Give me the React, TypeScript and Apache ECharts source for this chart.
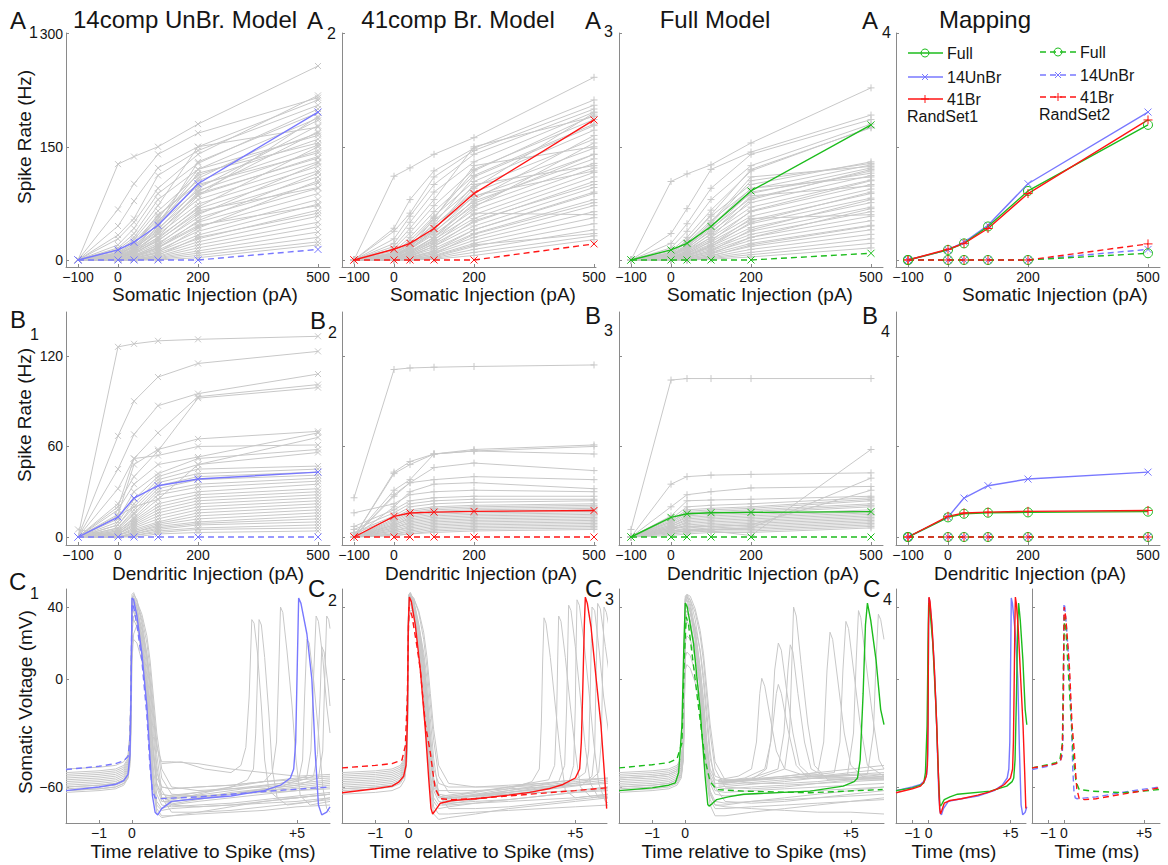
import React, { useEffect, useRef } from "react";
import * as echarts from "echarts";

const FONT = '"Liberation Sans", Arial, Helvetica, sans-serif';
const GREY = "#c8c8c8";
const BLUE = "#7878ff";
const RED = "#ff1414";
const GREEN = "#1cbc1c";
const AXIS = "#8a8a8a";
const INK = "#151515";

// ---------- injection (F-I) data ----------
const INJ = [-100, 0, 40, 100, 200, 500];
const INJ_TICKS = [-100, 0, 200, 500];
const RATE_A_TICKS = [0, 150, 300];
const RATE_B_TICKS = [0, 60, 120];
const VOLT_TICKS = [-60, 0, 40];
const TIME_TICKS = [-1, 0, 5];

const A_UNBR_SET1 = [0, 13.3, 23.5, 46, 101, 196];
const A_UNBR_SET2 = [0, 0, 0, 0, 0, 14];
const A_BR_SET1 = [0, 14.2, 22, 41.7, 88, 185.5];
const A_BR_SET2 = [0, 0, 0, 0, 0, 21.3];
const A_FULL_SET1 = [0, 13.3, 22, 44.4, 91.4, 179];
const A_FULL_SET2 = [0, 0, 0, 0, 0, 8.9];

const B_UNBR_SET1 = [0, 13.2, 25.8, 34, 38.4, 43];
const B_UNBR_SET2 = [0, 0, 0, 0, 0, 0];
const B_BR_SET1 = [0, 13.7, 15.9, 16.5, 17, 17.6];
const B_BR_SET2 = [0, 0, 0, 0, 0, 0];
const B_FULL_SET1 = [0, 13, 15.4, 16.1, 16.3, 16.8];
const B_FULL_SET2 = [0, 0, 0, 0, 0, 0];

const A1_GREY = [
  [0, 127, 137, 150, 180, 257], [0, 67, 101, 140, 168, 215], [0, 45, 78, 122, 150, 212],
  [0, 33, 55, 112, 145, 205], [0, 28, 50, 95, 140, 218], [0, 20, 42, 88, 128, 200],
  [0, 16, 35, 80, 120, 188], [0, 14, 30, 72, 150, 176], [0, 12, 27, 65, 112, 168],
  [0, 10, 24, 58, 105, 160], [0, 9, 22, 52, 98, 152], [0, 8, 19, 47, 92, 145],
  [0, 7, 17, 42, 86, 137], [0, 6, 15, 38, 80, 130], [0, 5, 13, 34, 74, 124],
  [0, 4, 11, 30, 68, 118], [0, 3, 9, 26, 62, 110], [0, 2, 8, 22, 56, 102],
  [0, 2, 6, 19, 50, 95], [0, 1, 5, 16, 44, 88], [0, 1, 4, 13, 38, 80],
  [0, 0, 3, 11, 33, 74], [0, 0, 2, 9, 28, 66], [0, 0, 1, 7, 24, 58],
  [0, 0, 0, 5, 20, 50], [0, 0, 0, 4, 16, 44], [0, 0, 0, 3, 12, 37],
  [0, 0, 0, 2, 9, 30], [0, 0, 0, 1, 6, 24], [0, 0, 0, 0, 3, 20],
  [0, 3, 12, 45, 130, 195], [0, 6, 20, 60, 100, 142], [0, 4, 14, 50, 115, 155],
  [0, 2, 10, 35, 90, 170], [0, 3, 10, 30, 85, 190], [0, 5, 15, 40, 95, 178],
  [0, 8, 22, 55, 120, 165], [0, 2, 8, 28, 70, 150], [0, 4, 12, 36, 88, 135],
  [0, 1, 6, 20, 60, 128], [0, 0, 4, 15, 52, 115], [0, 0, 2, 10, 42, 105],
  [0, 6, 18, 48, 108, 185], [0, 3, 9, 25, 65, 96], [0, 1, 5, 17, 46, 72],
  [0, 0, 1, 6, 30, 62],
];
const A2_GREY = [
  [0, 111, 122, 140, 162, 242], [0, 42, 80, 118, 148, 212], [0, 38, 62, 110, 145, 205],
  [0, 28, 58, 100, 140, 200], [0, 22, 50, 90, 130, 196], [0, 18, 42, 80, 150, 190],
  [0, 15, 36, 72, 120, 186], [0, 12, 30, 64, 112, 180], [0, 10, 26, 58, 104, 172],
  [0, 9, 23, 52, 97, 160], [0, 8, 20, 46, 90, 148], [0, 7, 18, 42, 84, 140],
  [0, 6, 16, 38, 78, 134], [0, 5, 14, 34, 72, 128], [0, 4, 12, 30, 66, 122],
  [0, 3, 10, 27, 60, 116], [0, 3, 9, 24, 55, 110], [0, 2, 7, 21, 50, 104],
  [0, 2, 6, 18, 45, 96], [0, 1, 5, 15, 40, 88], [0, 1, 4, 12, 35, 80],
  [0, 0, 3, 10, 30, 72], [0, 0, 2, 8, 26, 64], [0, 0, 1, 6, 22, 56],
  [0, 0, 0, 4, 18, 48], [0, 0, 0, 3, 14, 40], [0, 0, 0, 2, 10, 32],
  [0, 0, 0, 1, 6, 27], [0, 4, 15, 55, 125, 150], [0, 5, 18, 40, 100, 125],
  [0, 3, 11, 30, 75, 140], [0, 4, 14, 40, 95, 195], [0, 6, 18, 48, 110, 178],
  [0, 3, 10, 30, 80, 165], [0, 2, 8, 26, 70, 155], [0, 5, 15, 36, 85, 118],
  [0, 1, 5, 18, 52, 100], [0, 0, 3, 12, 40, 90], [0, 0, 2, 8, 34, 76],
  [0, 8, 22, 56, 118, 192], [0, 2, 7, 22, 62, 60], [0, 0, 1, 5, 20, 35],
];
const A3_GREY = [
  [0, 104, 114, 126, 155, 228], [0, 35, 68, 120, 143, 192], [0, 22, 48, 95, 140, 186],
  [0, 16, 38, 80, 125, 180], [0, 12, 30, 66, 118, 176], [0, 10, 26, 58, 100, 130],
  [0, 9, 23, 52, 94, 126], [0, 8, 20, 46, 88, 122], [0, 7, 18, 42, 82, 118],
  [0, 6, 16, 38, 76, 112], [0, 5, 14, 34, 70, 106], [0, 4, 12, 30, 64, 100],
  [0, 4, 10, 27, 58, 94], [0, 3, 9, 24, 53, 88], [0, 3, 8, 21, 48, 82],
  [0, 2, 7, 18, 43, 76], [0, 2, 6, 16, 38, 70], [0, 1, 5, 14, 34, 64],
  [0, 1, 4, 12, 30, 58], [0, 0, 3, 10, 26, 52], [0, 0, 2, 8, 22, 46],
  [0, 0, 1, 6, 18, 40], [0, 0, 0, 4, 14, 34], [0, 0, 0, 3, 10, 28],
  [0, 0, 0, 2, 7, 22], [0, 0, 0, 1, 4, 16], [0, 6, 20, 50, 110, 124],
  [0, 5, 17, 45, 95, 110], [0, 3, 10, 30, 80, 120], [0, 5, 15, 40, 90, 115],
  [0, 2, 8, 25, 65, 105], [0, 4, 12, 35, 85, 98], [0, 1, 5, 18, 50, 90],
  [0, 0, 3, 12, 40, 80], [0, 0, 2, 8, 30, 68], [0, 6, 18, 48, 105, 128],
  [0, 2, 6, 20, 55, 60], [0, 0, 1, 5, 20, 45], [0, 8, 25, 60, 120, 175],
];
const B1_GREY = [
  [0, 126, 128, 130, 131, 133], [0, 67, 90, 106, 115, 123], [0, 45, 68, 87, 95, 108],
  [0, 32, 52, 69, 93, 101], [0, 22, 40, 57, 92, 99], [0, 20, 52, 54, 60, 61],
  [0, 15, 48, 58, 65, 70], [0, 18, 35, 48, 53, 69], [0, 12, 30, 42, 52, 58],
  [0, 10, 25, 40, 48, 56], [0, 8, 22, 38, 45, 47], [0, 8, 20, 36, 42, 45],
  [0, 6, 18, 34, 40, 43], [0, 6, 16, 32, 38, 41], [0, 5, 15, 30, 35, 39],
  [0, 4, 13, 28, 33, 37], [0, 4, 12, 25, 30, 35], [0, 3, 11, 22, 28, 32],
  [0, 3, 10, 20, 26, 30], [0, 2, 9, 18, 24, 28], [0, 2, 8, 16, 22, 26],
  [0, 2, 7, 14, 20, 24], [0, 1, 6, 12, 18, 22], [0, 1, 5, 10, 16, 20],
  [0, 1, 4, 9, 14, 18], [0, 0, 3, 8, 12, 16], [0, 0, 3, 7, 10, 14],
  [0, 0, 2, 6, 9, 12], [5, 0, 2, 5, 8, 10], [0, 0, 1, 4, 6, 8],
  [0, 0, 1, 3, 5, 6], [0, 0, 0, 2, 3, 4], [0, 14, 20, 25, 48, 66],
];
const B2_GREY = [
  [26, 111, 112, 112.5, 113, 114], [0, 43, 50, 55, 58, 61], [0, 42, 48, 55, 57, 60],
  [0, 31, 38, 55, 57, 55], [0, 27, 36, 46, 49, 44], [0, 28, 36, 38, 40, 38],
  [0, 20, 30, 35, 36, 32], [16, 22, 28, 30, 31, 30], [7, 18, 24, 26, 27, 27],
  [5, 16, 22, 24, 25, 25], [3, 14, 20, 22, 23, 24], [2, 13, 18, 20, 21, 22],
  [0, 12, 17, 19, 20, 21], [0, 11, 16, 18, 19, 20], [0, 10, 15, 17, 18, 19],
  [0, 9, 14, 16, 17, 18], [0, 8, 13, 15, 16, 17], [0, 8, 12, 14, 15, 16],
  [0, 7, 11, 13, 14, 15], [0, 6, 10, 12, 13, 14], [0, 6, 9, 11, 12, 13],
  [0, 5, 8, 10, 11, 12], [0, 4, 7, 9, 10, 11], [0, 4, 6, 8, 9, 10],
  [0, 3, 5, 7, 8, 9], [0, 2, 4, 6, 7, 8], [0, 2, 3, 5, 6, 7],
  [0, 1, 2, 4, 5, 6], [0, 1, 2, 3, 4, 5],
];
const B3_GREY = [
  [5, 104, 105, 105, 105, 105], [0, 35, 40, 41, 41.5, 42.5], [0, 20, 28, 30, 32.5, 33.5],
  [0, 14, 24, 24.5, 25, 27], [0, 12, 20, 21, 22, 26], [0, 11, 18, 19, 20, 25],
  [0, 10, 17, 18, 19, 24], [0, 10, 16, 17, 18, 22], [0, 9, 15, 16, 17, 21],
  [0, 8, 14, 15, 16, 20], [0, 8, 13, 14, 15, 18], [0, 7, 12, 13, 14, 17],
  [0, 7, 11, 12, 13, 16], [0, 6, 10, 11, 12, 15], [0, 6, 9, 10, 11, 14],
  [0, 5, 8, 9, 10, 13], [0, 5, 7, 8, 9, 12], [0, 4, 6, 7, 8, 11],
  [0, 4, 5, 6, 7, 10], [0, 3, 4, 5, 6, 9], [0, 3, 4, 5, 5, 8],
  [0, 2, 3, 4, 4, 7], [0, 1, 2, 3, 3, 6], [0, 3, 4, 4, 1, 58],
  [0, 4, 5, 5, 6, 39], [0, 6, 7, 7, 8, 31],
];

// ---------- voltage traces ----------
const G = [-2, -1, -0.5, -0.25, -0.12, -0.06, -0.03, 0, 0.05, 0.15, 0.3, 0.45, 0.55, 0.65, 0.75, 0.9, 1.2, 2, 3, 4, 5, 6];

const C1_GREY = [
  [-55, -54, -53, -51, -47, -35, -5, 44, 46, 40, 24, 2, -18, -42, -60, -68, -68, -66, -64, -61, -59, -57],
  [-60, -59, -58, -56, -52, -42, -15, 40, 42, 36, 20, -5, -30, -55, -68, -72, -70, -68, -66, -64, -62, -60],
  [-52, -51, -50, -48, -44, -30, 0, 47, 48, 43, 30, 10, -8, -32, -52, -60, -61, -60, -59, -57, -56, -55],
  [-63, -62, -61, -59, -55, -45, -20, 35, 38, 31, 13, -12, -38, -62, -74, -77, -76, -74, -71, -68, -66, -64],
  [-57, -56, -55, -53, -49, -38, -8, 42, 44, 40, 27, 6, -14, -40, -58, -66, -66, -65, -64, -62, -61, -59],
  [-50, -49, -48, -46, -42, -30, -5, 30, 33, 29, 17, -1, -17, -40, -55, -60, -61, -60, -59, -57, -55, -54],
  [-62, -61, -60, -58, -54, -44, -20, 38, 40, 34, 18, -8, -32, -58, -72, -76, -76, -75, -74, -73, -71, -70],
  [-58, -57, -56, -54, -50, -40, -12, 18, 22, 20, 10, -6, -22, -44, -58, -64, -65, -65, -64, -63, -62, -61],
  [-54, -53, -52, -50, -46, -34, -4, 45, 47, 44, 32, 14, -2, -20, -38, -46, -46, -47, -50, -52, -54, -53],
  [-59, -58, -57, -55, -51, -41, -14, 43, 45, 39, 22, -2, -25, -50, -64, -70, -71, -70, -69, -67, -65, -63],
  [-61, -60, -59, -57, -53, -43, -18, 41, 43, 37, 19, -6, -33, -60, -70, -73, -72, -71, -70, -69, -68, -66],
  [-56, -55, -54, -52, -48, -37, -9, 40, 43, 42, 34, 20, 5, -15, -35, -55, -64, -65, -64, -62, -60, -58],
  [-53, -52, -51, -49, -45, -33, -3, 43, 45, 43, 36, 24, 10, -10, -30, -50, -60, -62, -61, -60, -58, -56],
  [-60, -59, -58, -56, -53, -45, -25, 25, 35, 36, 28, 14, 0, -20, -42, -62, -70, -71, -70, -68, -66, -64],
  [-62, -61, -60, -58, -55, -48, -30, 10, 25, 30, 25, 12, -4, -26, -48, -66, -74, -74, -73, -71, -69, -67],
];
const C1_GREY_LATE = [
  [[0.9, -47], [1.5, -46], [2.2, -50], [3, -52], [3.3, -48], [3.45, -38], [3.55, -10], [3.63, 33], [3.7, 31], [3.8, 15], [3.92, -15], [4.02, -45], [4.15, -62], [4.4, -66], [5, -66], [6, -64]],
  [[1, -68], [2, -64], [3, -60], [3.5, -56], [3.68, -50], [3.75, -30], [3.8, 0], [3.85, 33], [3.92, 30], [4.02, 12], [4.15, -20], [4.25, -50], [4.4, -66], [4.7, -70], [5.5, -68], [6, -66]],
  [[1, -66], [2, -63], [3, -60], [4, -57], [4.25, -52], [4.38, -35], [4.44, 0], [4.5, 40], [4.57, 37], [4.7, 15], [4.85, -15], [4.97, -45], [5.1, -65], [5.4, -70], [6, -68]],
  [[1, -70], [3, -64], [4.5, -60], [5.05, -56], [5.17, -45], [5.23, -10], [5.3, 22], [5.37, 20], [5.5, 0], [5.65, -30], [5.78, -60], [5.9, -72], [6, -74]],
  [[1, -67], [3, -62], [4.5, -58], [5.3, -54], [5.42, -40], [5.5, 0], [5.58, 35], [5.65, 32], [5.78, 12], [5.9, -15], [6, -30]],
  [[1, -69], [3, -63], [5, -59], [5.65, -55], [5.78, -40], [5.84, 0], [5.9, 35], [5.96, 33], [6, 28]],
  [[1, -65], [3, -61], [5, -57], [5.5, -54], [5.62, -42], [5.7, -10], [5.75, 18], [5.82, 15], [5.95, -5], [6, -15]],
];
const C2_GREY = [
  [-55, -54, -53, -51, -47, -35, -5, 44, 46, 40, 24, 2, -18, -42, -60, -66, -66, -65, -63, -61, -58, -56],
  [-60, -59, -58, -56, -52, -42, -15, 42, 44, 38, 21, -4, -28, -54, -68, -72, -71, -69, -67, -65, -63, -61],
  [-52, -51, -50, -48, -44, -30, 0, 47, 48, 44, 31, 12, -6, -30, -50, -58, -60, -60, -59, -58, -56, -55],
  [-64, -63, -62, -60, -56, -46, -22, 40, 42, 35, 16, -10, -36, -62, -75, -78, -77, -75, -72, -70, -68, -66],
  [-57, -56, -55, -53, -49, -38, -8, 45, 47, 42, 28, 6, -14, -40, -58, -65, -66, -65, -64, -63, -62, -60],
  [-62, -61, -60, -58, -54, -44, -20, 43, 45, 38, 20, -6, -32, -58, -71, -75, -75, -74, -73, -72, -71, -70],
  [-58, -57, -56, -54, -50, -40, -12, 46, 47, 43, 30, 10, -8, -35, -55, -64, -65, -65, -64, -63, -62, -60],
  [-53, -52, -51, -49, -45, -33, -3, 44, 46, 42, 28, 8, -12, -38, -56, -62, -62, -62, -61, -60, -59, -58],
  [-61, -60, -59, -57, -53, -43, -16, 45, 47, 41, 24, 0, -24, -52, -66, -70, -70, -69, -68, -67, -66, -64],
  [-59, -58, -57, -55, -51, -41, -14, 46, 48, 43, 28, 6, -16, -44, -62, -68, -69, -68, -67, -65, -63, -62],
  [-56, -55, -54, -52, -48, -37, -9, 44, 46, 45, 37, 22, 6, -14, -34, -54, -63, -64, -63, -61, -59, -57],
  [-54, -53, -52, -50, -46, -34, -4, 46, 47, 45, 38, 26, 12, -8, -28, -48, -58, -60, -60, -59, -57, -55],
  [-61, -60, -59, -57, -54, -46, -26, 30, 38, 38, 30, 15, 0, -22, -44, -64, -72, -72, -71, -69, -67, -65],
];
const C2_GREY_LATE = [
  [[1, -67], [2, -64], [3, -61], [3.7, -57], [3.92, -50], [3.98, -25], [4.02, 10], [4.06, 34], [4.12, 31], [4.25, 12], [4.4, -15], [4.55, -42], [4.7, -62], [5, -66], [6, -64]],
  [[1, -66], [3, -60], [4.2, -56], [4.38, -48], [4.44, -20], [4.47, 10], [4.5, 35], [4.57, 32], [4.7, 12], [4.85, -15], [5, -40], [5.15, -60], [5.5, -66], [6, -64]],
  [[1, -68], [3, -62], [4.5, -57], [4.68, -48], [4.74, -15], [4.77, 15], [4.8, 41], [4.87, 38], [5, 18], [5.15, -10], [5.3, -38], [5.45, -58], [5.7, -66], [6, -66]],
  [[1, -69], [3, -63], [4.8, -58], [4.95, -48], [5, -15], [5.02, 15], [5.05, 44], [5.12, 41], [5.25, 22], [5.4, -5], [5.55, -35], [5.7, -58], [5.9, -68], [6, -69]],
  [[1, -65], [3, -60], [5, -56], [5.3, -52], [5.4, -40], [5.45, -5], [5.5, 40], [5.58, 38], [5.72, 15], [5.85, -10], [6, -30]],
  [[1, -70], [3, -64], [5.2, -59], [5.5, -54], [5.58, -40], [5.62, 0], [5.67, 42], [5.75, 39], [5.9, 18], [6, 5]],
  [[1, -67], [3, -62], [5.4, -57], [5.7, -52], [5.78, -35], [5.82, 5], [5.86, 40], [5.93, 37], [6, 30]],
];
const C3_GREY = [
  [-55, -54, -53, -51, -47, -35, -5, 44, 46, 42, 28, 6, -12, -36, -52, -58, -58, -56, -54, -52, -50, -48],
  [-60, -59, -58, -56, -52, -42, -15, 40, 42, 37, 22, -2, -24, -48, -64, -70, -70, -68, -66, -64, -62, -60],
  [-52, -51, -50, -48, -44, -32, -2, 46, 47, 44, 33, 15, -2, -24, -44, -54, -56, -56, -55, -54, -53, -52],
  [-63, -62, -61, -59, -55, -45, -20, 36, 38, 33, 17, -6, -30, -56, -70, -76, -76, -74, -72, -70, -68, -66],
  [-57, -56, -55, -53, -49, -38, -10, 20, 24, 22, 12, -4, -20, -40, -55, -62, -63, -62, -61, -60, -59, -58],
  [-58, -57, -56, -54, -50, -40, -15, 5, 8, 6, -2, -14, -28, -45, -58, -64, -65, -64, -63, -62, -61, -60],
  [-61, -60, -59, -57, -53, -43, -18, 42, 44, 38, 22, -4, -28, -54, -67, -72, -72, -71, -70, -69, -68, -67],
  [-54, -53, -52, -50, -46, -34, -6, 28, 32, 29, 18, 0, -16, -38, -54, -60, -61, -60, -59, -58, -57, -56],
  [-59, -58, -57, -55, -51, -41, -14, 44, 46, 40, 25, 2, -20, -46, -62, -68, -69, -68, -67, -66, -65, -64],
  [-62, -61, -60, -58, -54, -44, -19, 12, 15, 13, 4, -10, -26, -48, -63, -70, -71, -72, -73, -74, -74, -75],
  [-56, -55, -54, -52, -48, -36, -8, 38, 41, 38, 26, 6, -12, -34, -50, -56, -57, -56, -55, -54, -52, -50],
  [-55, -54, -53, -51, -47, -36, -8, 42, 45, 44, 37, 24, 10, -10, -30, -50, -60, -61, -60, -58, -56, -54],
  [-60, -59, -58, -56, -53, -45, -24, 30, 36, 36, 29, 16, 2, -18, -40, -60, -68, -69, -68, -66, -64, -62],
  [-53, -52, -51, -49, -45, -33, -4, 45, 47, 46, 39, 27, 14, -5, -25, -46, -56, -58, -58, -57, -55, -53],
];
const C3_GREY_LATE = [
  [[1, -56], [1.6, -54], [2, -50], [2.15, -35], [2.25, -8], [2.31, 0.4], [2.4, -4], [2.55, -20], [2.75, -40], [3, -50], [3.5, -53], [4.5, -54], [6, -53]],
  [[1, -57], [1.8, -55], [2.4, -50], [2.58, -35], [2.7, 5], [2.81, 20], [2.9, 16], [3.05, -5], [3.25, -30], [3.45, -48], [3.8, -54], [5, -55], [6, -54]],
  [[1, -58], [2, -56], [2.45, -50], [2.62, -30], [2.75, -8], [2.81, -3], [2.9, -8], [3.1, -28], [3.35, -48], [3.7, -55], [5, -56], [6, -55]],
  [[1, -57], [2, -55], [2.8, -50], [2.98, -30], [3.1, 5], [3.17, 19], [3.25, 15], [3.4, -8], [3.6, -35], [3.8, -50], [4.3, -55], [6, -55]],
  [[1, -58], [2.2, -55], [3, -50], [3.15, -30], [3.22, 10], [3.27, 40], [3.35, 35], [3.5, 8], [3.7, -25], [3.9, -48], [4.3, -56], [6, -56]],
  [[1, -57], [3, -54], [4, -52], [4.18, -35], [4.28, 5], [4.37, 26], [4.45, 22], [4.6, 0], [4.8, -30], [5, -48], [5.4, -55], [6, -55]],
  [[1, -58], [3, -55], [4.5, -52], [4.67, -35], [4.76, 5], [4.85, 32], [4.93, 28], [5.08, 5], [5.28, -25], [5.5, -48], [6, -54]],
  [[1, -60], [3, -57], [4.9, -53], [5.08, -30], [5.16, 10], [5.23, 38], [5.3, 34], [5.45, 10], [5.65, -20], [5.85, -45], [6, -50]],
  [[1, -59], [3, -56], [5.5, -53], [5.68, -30], [5.76, 10], [5.83, 36], [5.9, 33], [6, 22]],
];

const V_UNBR_SET1 = [[-2, -62], [-1, -60], [-0.5, -58.5], [-0.25, -56.5], [-0.12, -53], [-0.06, -42], [-0.03, -10], [0, 45], [0.05, 44], [0.15, 35], [0.3, 14], [0.45, -15], [0.55, -45], [0.62, -65], [0.7, -74], [0.78, -75.5], [0.9, -72], [1.2, -68], [2, -66.5], [3, -65], [4, -62], [4.5, -59], [4.8, -55], [4.9, -50], [4.96, -35], [5, 0], [5.05, 45], [5.12, 42], [5.3, 25], [5.45, 0], [5.55, -40], [5.65, -70], [5.75, -75.5], [5.9, -74], [6, -71]];
const V_UNBR_SET2 = [[-2, -50.3], [-1, -48.5], [-0.5, -47], [-0.25, -45.5], [-0.12, -43], [-0.06, -33], [-0.03, -5], [0, 42], [0.05, 40], [0.15, 30], [0.3, 10], [0.45, -20], [0.55, -50], [0.62, -62], [0.7, -66], [0.8, -66.5], [1.2, -66.2], [2, -65.5], [3, -64], [4, -62.5], [5, -61.2], [6, -60]];
const V_BR_SET1 = [[-2, -63.2], [-1, -61], [-0.5, -59.5], [-0.3, -57.3], [-0.15, -54], [-0.08, -48], [-0.04, -25], [-0.01, 30], [0.02, 45.5], [0.08, 43], [0.2, 30], [0.35, 5], [0.5, -28], [0.6, -55], [0.67, -72], [0.72, -75], [0.8, -73], [0.95, -69], [1.3, -67.5], [2, -66.5], [3, -64.5], [3.63, -63], [4.2, -61], [4.63, -58.6], [5, -55], [5.13, -50], [5.18, -35], [5.22, -8], [5.27, 30], [5.3, 45.5], [5.36, 42], [5.47, 29], [5.62, 1], [5.77, -26], [5.87, -52], [5.94, -72]];
const V_BR_SET2 = [[-2, -49.4], [-1, -48], [-0.5, -47], [-0.2, -45], [-0.1, -37], [-0.04, -10], [-0.01, 25], [0.01, 40], [0.1, 35], [0.25, 18], [0.35, 5], [0.5, -25], [0.65, -41], [0.75, -55], [0.8, -61], [0.95, -66.5], [1.3, -67], [2, -66.5], [3.63, -64], [5, -62], [5.94, -60.5]];
const V_FULL_SET1 = [[-2, -62], [-1, -60.5], [-0.5, -59], [-0.3, -57.7], [-0.2, -52], [-0.1, -26], [-0.04, 20], [0, 42.2], [0.06, 40], [0.25, 19.7], [0.45, -17], [0.6, -54], [0.68, -69.7], [0.72, -70.6], [0.8, -69.5], [0.95, -67], [1.3, -65.5], [1.76, -64], [3.77, -62.3], [4.77, -59.5], [5.1, -57], [5.2, -55], [5.28, -45], [5.37, -8], [5.44, 30], [5.5, 42.2], [5.6, 32.6], [5.76, 10.5], [5.9, -17], [6, -25.4]];
const V_FULL_SET2 = [[-2, -49.4], [-1, -47.6], [-0.5, -46.5], [-0.25, -44.4], [-0.1, -35.6], [-0.03, 10.5], [0.03, 34.5], [0.1, 30], [0.35, -8], [0.6, -45], [0.75, -57], [0.95, -61.4], [1.76, -62.3], [3.77, -63.2], [5.96, -61.4]];

// ---------- symbols ----------
const SYM_X = "path://M0,0L10,10M10,0L0,10";
const SYM_PLUS = "path://M5,0L5,10M0,5L10,5";

const AB_COLS = [
  { left: 66, width: 264, min: -130, max: 530 },
  { left: 342, width: 254, min: -130, max: 505 },
  { left: 619, width: 264, min: -130, max: 530 },
  { left: 896, width: 264, min: -130, max: 530 },
];
const C_COLS = [
  { left: 66, width: 264, min: -2, max: 6 },
  { left: 342, width: 265, min: -2, max: 5.95 },
  { left: 619, width: 265, min: -2, max: 6 },
  { left: 896, width: 130, min: -2, max: 5.95 },
  { left: 1032, width: 128, min: -2, max: 6 },
];
const ROW_A = { top: 33, height: 234, min: -9.3, max: 300.7 };
const ROW_B = { top: 312, height: 233, min: -5.3, max: 149.1 };
const ROW_C = { top: 589, height: 234, min: -80, max: 50 };

function fmt(plus: boolean) {
  return (v: number) => (v < 0 ? "\u2212" + Math.abs(v) : plus && v > 0 ? "+" + v : String(v));
}

function buildOption() {
  const grid: any[] = [];
  const xAxis: any[] = [];
  const yAxis: any[] = [];
  const series: any[] = [];

  const addPanel = (row: any, col: any, xTicks: number[], yTicks: number[], showY: boolean, plus: boolean) => {
    const idx = grid.length;
    grid.push({ left: col.left, top: row.top, width: col.width, height: row.height });
    const axisCommon = {
      type: "value",
      gridIndex: idx,
      splitLine: { show: false },
      axisLine: { show: true, onZero: false, lineStyle: { color: AXIS, width: 1 } },
    };
    xAxis.push({
      ...axisCommon,
      min: col.min,
      max: col.max,
      axisTick: { show: true, inside: true, length: 3, customValues: xTicks, lineStyle: { color: AXIS } },
      axisLabel: { show: true, customValues: xTicks, formatter: fmt(plus), color: INK, fontSize: 14, fontFamily: FONT, margin: 3 },
    });
    yAxis.push({
      ...axisCommon,
      min: row.min,
      max: row.max,
      axisTick: { show: true, inside: true, length: 3, customValues: yTicks, lineStyle: { color: AXIS } },
      axisLabel: { show: showY, customValues: yTicks, formatter: fmt(false), color: INK, fontSize: 14, fontFamily: FONT, margin: 3 },
    });
    return idx;
  };

  const inj = (gi: number, ys: number[], color: string, sym: string, size: number, width: number, dashed: boolean, z: number) => {
    series.push({
      type: "line",
      xAxisIndex: gi,
      yAxisIndex: gi,
      data: INJ.map((x, i) => [x, ys[i]]),
      symbol: sym,
      symbolSize: size,
      showSymbol: true,
      lineStyle: { color, width, type: dashed ? [6, 4] : "solid" },
      itemStyle: { color: "transparent", borderColor: color, borderWidth: 1 },
      z,
      silent: true,
      animation: false,
    });
  };
  const volt = (gi: number, pts: number[][], color: string, width: number, dashed: boolean, z: number) => {
    series.push({
      type: "line",
      xAxisIndex: gi,
      yAxisIndex: gi,
      data: pts,
      showSymbol: false,
      symbol: "none",
      lineStyle: { color, width, type: dashed ? [6, 4] : "solid" },
      z,
      silent: true,
      animation: false,
      clip: true,
    });
  };

  // Row A
  const a = AB_COLS.map((c, i) => addPanel(ROW_A, c, INJ_TICKS, RATE_A_TICKS, i === 0, false));
  A1_GREY.forEach((l) => inj(a[0], l, GREY, SYM_X, 6, 1, false, 2));
  inj(a[0], A_UNBR_SET2, BLUE, SYM_X, 7, 1.4, true, 3);
  inj(a[0], A_UNBR_SET1, BLUE, SYM_X, 7, 1.4, false, 3);
  A2_GREY.forEach((l) => inj(a[1], l, GREY, SYM_PLUS, 7, 1, false, 2));
  inj(a[1], A_BR_SET2, RED, SYM_X, 7, 1.4, true, 3);
  inj(a[1], A_BR_SET1, RED, SYM_X, 7, 1.4, false, 3);
  A3_GREY.forEach((l) => inj(a[2], l, GREY, SYM_PLUS, 7, 1, false, 2));
  inj(a[2], A_FULL_SET2, GREEN, SYM_X, 7, 1.4, true, 3);
  inj(a[2], A_FULL_SET1, GREEN, SYM_X, 7, 1.4, false, 3);
  inj(a[3], A_UNBR_SET1, BLUE, SYM_X, 7, 1.4, false, 3);
  inj(a[3], A_FULL_SET1, GREEN, "circle", 9, 1.4, false, 3);
  inj(a[3], A_BR_SET1, RED, SYM_PLUS, 9, 1.4, false, 3);
  inj(a[3], A_UNBR_SET2, BLUE, SYM_X, 7, 1.4, true, 3);
  inj(a[3], A_FULL_SET2, GREEN, "circle", 9, 1.4, true, 3);
  inj(a[3], A_BR_SET2, RED, SYM_PLUS, 9, 1.4, true, 3);

  // Row B
  const b = AB_COLS.map((c, i) => addPanel(ROW_B, c, INJ_TICKS, RATE_B_TICKS, i === 0, false));
  B1_GREY.forEach((l) => inj(b[0], l, GREY, SYM_X, 6, 1, false, 2));
  inj(b[0], B_UNBR_SET2, BLUE, SYM_X, 7, 1.4, true, 3);
  inj(b[0], B_UNBR_SET1, BLUE, SYM_X, 7, 1.4, false, 3);
  B2_GREY.forEach((l) => inj(b[1], l, GREY, SYM_PLUS, 7, 1, false, 2));
  inj(b[1], B_BR_SET2, RED, SYM_X, 7, 1.4, true, 3);
  inj(b[1], B_BR_SET1, RED, SYM_X, 7, 1.4, false, 3);
  B3_GREY.forEach((l) => inj(b[2], l, GREY, SYM_PLUS, 7, 1, false, 2));
  inj(b[2], B_FULL_SET2, GREEN, SYM_X, 7, 1.4, true, 3);
  inj(b[2], B_FULL_SET1, GREEN, SYM_X, 7, 1.4, false, 3);
  inj(b[3], B_UNBR_SET1, BLUE, SYM_X, 7, 1.4, false, 3);
  inj(b[3], B_FULL_SET1, GREEN, "circle", 9, 1.4, false, 3);
  inj(b[3], B_BR_SET1, RED, SYM_PLUS, 9, 1.4, false, 3);
  inj(b[3], B_UNBR_SET2, BLUE, SYM_X, 7, 1.4, true, 3);
  inj(b[3], B_FULL_SET2, GREEN, "circle", 9, 1.4, true, 3);
  inj(b[3], B_BR_SET2, RED, SYM_PLUS, 9, 1.4, true, 3);

  // Row C
  const c = C_COLS.map((col, i) => addPanel(ROW_C, col, TIME_TICKS, VOLT_TICKS, i === 0, true));
  const gridPts = (vals: number[]) => G.map((t, i) => [t, vals[i]]);
  C1_GREY.forEach((v) => volt(c[0], gridPts(v), GREY, 1, false, 2));
  C1_GREY_LATE.forEach((p) => volt(c[0], p, GREY, 1, false, 2));
  volt(c[0], V_UNBR_SET2, BLUE, 1.4, true, 3);
  volt(c[0], V_UNBR_SET1, BLUE, 1.4, false, 3);
  C2_GREY.forEach((v) => volt(c[1], gridPts(v), GREY, 1, false, 2));
  C2_GREY_LATE.forEach((p) => volt(c[1], p, GREY, 1, false, 2));
  volt(c[1], V_BR_SET2, RED, 1.4, true, 3);
  volt(c[1], V_BR_SET1, RED, 1.4, false, 3);
  C3_GREY.forEach((v) => volt(c[2], gridPts(v), GREY, 1, false, 2));
  C3_GREY_LATE.forEach((p) => volt(c[2], p, GREY, 1, false, 2));
  volt(c[2], V_FULL_SET2, GREEN, 1.4, true, 3);
  volt(c[2], V_FULL_SET1, GREEN, 1.4, false, 3);
  volt(c[3], V_UNBR_SET1, BLUE, 1.4, false, 3);
  volt(c[3], V_FULL_SET1, GREEN, 1.4, false, 3);
  volt(c[3], V_BR_SET1, RED, 1.4, false, 3);
  volt(c[4], V_UNBR_SET2, BLUE, 1.4, true, 3);
  volt(c[4], V_FULL_SET2, GREEN, 1.4, true, 3);
  volt(c[4], V_BR_SET2, RED, 1.4, true, 3);

  // ---------- graphic texts ----------
  const els: any[] = [];
  const txt = (x: number, y: number, text: string, size: number, align = "left", rotation = 0) => {
    els.push({
      type: "text",
      x,
      y,
      rotation,
      silent: true,
      style: {
        text,
        font: `${size}px ${FONT}`,
        fill: INK,
        align,
        textAlign: align,
        verticalAlign: "middle",
        textVerticalAlign: "middle",
      },
    });
  };
  // titles
  txt(185, 19, "14comp UnBr. Model", 24, "center");
  txt(458, 19, "41comp Br. Model", 24, "center");
  txt(715, 19, "Full Model", 24, "center");
  txt(985, 19, "Mapping", 24, "center");
  // panel letters
  const letters: [string, string, number, number, number, number][] = [
    ["A", "1", 10, 20, 29, 32], ["A", "2", 307, 20, 327, 33], ["A", "3", 585, 20, 604, 31], ["A", "4", 862, 20, 882, 32],
    ["B", "1", 10, 319, 30, 334], ["B", "2", 310, 320, 328, 332], ["B", "3", 585, 315, 604, 330], ["B", "4", 862, 315, 881, 331],
    ["C", "1", 9, 581, 30, 593], ["C", "2", 308, 588, 328, 600], ["C", "3", 585, 588, 605, 599], ["C", "4", 863, 588, 883, 599],
  ];
  letters.forEach(([L, s, x, y, sx, sy]) => {
    txt(x, y, L, 24);
    txt(sx, sy, s, 16);
  });
  // axis titles
  [205, 483, 760, 1055].forEach((x) => txt(x, 294, "Somatic Injection (pA)", 19, "center"));
  [208, 481, 763, 1030].forEach((x) => txt(x, 573, "Dendritic Injection (pA)", 19, "center"));
  [203, 482, 754].forEach((x) => txt(x, 851, "Time relative to Spike (ms)", 19, "center"));
  txt(954, 851, "Time (ms)", 19, "center");
  txt(1097, 851, "Time (ms)", 19, "center");
  txt(24, 137, "Spike Rate (Hz)", 19, "center", Math.PI / 2);
  txt(24, 415, "Spike Rate (Hz)", 19, "center", Math.PI / 2);
  txt(25, 702, "Somatic Voltage (mV)", 19, "center", Math.PI / 2);

  // legend
  const seg = (x1: number, y: number, x2: number, color: string, dashed: boolean) =>
    els.push({ type: "line", silent: true, shape: { x1, y1: y, x2, y2: y }, style: { stroke: color, lineWidth: 1.4, lineDash: dashed ? [6, 4] : null } });
  const mk = (kind: string, cx: number, cy: number, color: string) => {
    if (kind === "o") els.push({ type: "circle", silent: true, shape: { cx, cy, r: 4 }, style: { fill: "none", stroke: color, lineWidth: 1 } });
    if (kind === "x") {
      els.push({ type: "line", silent: true, shape: { x1: cx - 3, y1: cy - 3, x2: cx + 3, y2: cy + 3 }, style: { stroke: color, lineWidth: 1 } });
      els.push({ type: "line", silent: true, shape: { x1: cx - 3, y1: cy + 3, x2: cx + 3, y2: cy - 3 }, style: { stroke: color, lineWidth: 1 } });
    }
    if (kind === "+") {
      els.push({ type: "line", silent: true, shape: { x1: cx - 4, y1: cy, x2: cx + 4, y2: cy }, style: { stroke: color, lineWidth: 1 } });
      els.push({ type: "line", silent: true, shape: { x1: cx, y1: cy - 4, x2: cx, y2: cy + 4 }, style: { stroke: color, lineWidth: 1 } });
    }
  };
  const legendRows: [string, string, string, number, number][] = [
    ["Full", "o", GREEN, 53, 52],
    ["14UnBr", "x", BLUE, 77, 75],
    ["41Br", "+", RED, 99, 97],
  ];
  legendRows.forEach(([label, kind, color, y1, y2]) => {
    seg(908, y1, 943, color, false);
    mk(kind, 925, y1, color);
    txt(947, y1, label, 16);
    seg(1040, y2, 1077, color, true);
    mk(kind, 1058, y2, color);
    txt(1080, y2, label, 16);
  });
  txt(907, 116, "RandSet1", 16);
  txt(1039, 114, "RandSet2", 16);

  return {
    animation: false,
    backgroundColor: "#ffffff",
    textStyle: { fontFamily: FONT },
    grid,
    xAxis,
    yAxis,
    series,
    graphic: { elements: els },
  };
}

export default function App() {
  const ref = useRef<HTMLDivElement>(null);
  useEffect(() => {
    if (!ref.current) return;
    const chart = echarts.init(ref.current, null, { renderer: "svg" });
    chart.setOption(buildOption() as any);
    return () => chart.dispose();
  }, []);
  return <div ref={ref} style={{ position: "absolute", left: 0, top: 0, width: 1168, height: 865, background: "#fff" }} />;
}
